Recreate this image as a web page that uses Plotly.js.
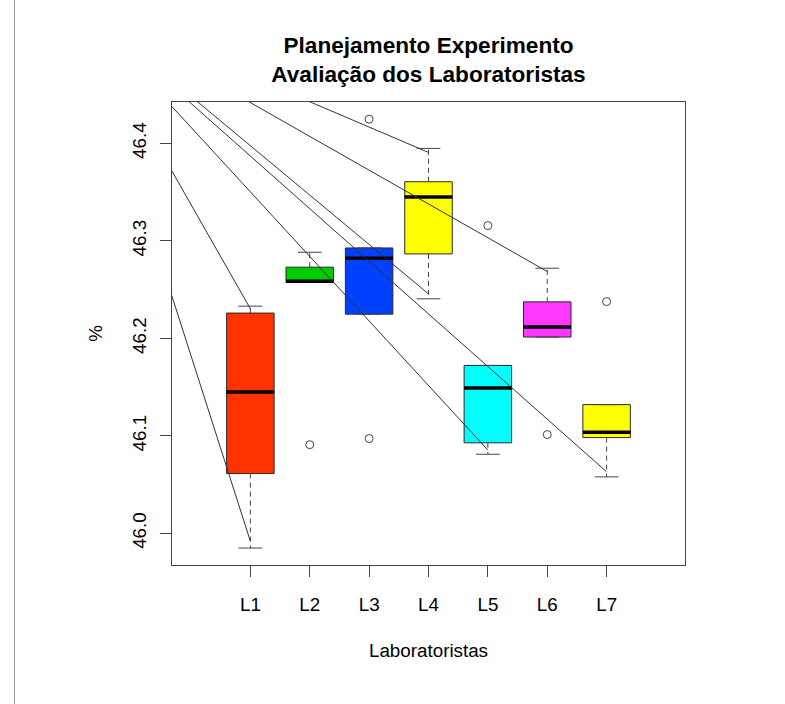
<!DOCTYPE html>
<html>
<head>
<meta charset="utf-8">
<script src="https://cdn.plot.ly/plotly-3.0.1.min.js"></script>
<style>
  html, body { margin:0; padding:0; background:#fff; }
  #wrap { position:relative; width:785px; height:704px; }
  #edge { position:absolute; left:14px; top:0; width:1px; height:704px; background:#9a9a9a; }
  #chart { position:absolute; left:0; top:0; width:785px; height:704px; }
</style>
</head>
<body>
<div id="wrap"><div id="chart"></div><div id="edge"></div></div>
<script>
// ---- data ----
const categories   = ['L1', 'L2', 'L3', 'L4', 'L5', 'L6', 'L7'];
const lowerWhisker = [45.985, 46.2575, 46.2249, 46.2406, 46.0812, 46.2014, 46.0580];
const q1           = [46.0614, 46.2575, 46.2249, 46.2867, 46.0929, 46.2014, 46.0983];
const median       = [46.1451, 46.2587, 46.2823, 46.3450, 46.1492, 46.2116, 46.1037];
const q3           = [46.2260, 46.2731, 46.2928, 46.3607, 46.1723, 46.2375, 46.1321];
const upperWhisker = [46.2331, 46.2884, 46.2928, 46.3949, 46.1723, 46.2720, 46.1321];
const boxColors    = ['#FF3300', '#00CC00', '#0040FF', '#FFFF00', '#00FFFF', '#FF38FF', '#FFFF00'];

// outliers: group index (1-based) and value
const outlierGroup = [2, 3, 3, 5, 6, 7];
const outlierValue = [46.091, 46.0973, 46.4249, 46.3157, 46.1014, 46.2378];

// extra straight lines drawn over the plot (start / end in data units)
const lineStartX = [-0.324, -0.324, -0.324, -0.045, 0.096, 0.953, 1.971];
const lineStartY = [46.244, 46.372, 46.438, 46.4435, 46.4435, 46.4435, 46.4435];
const lineEndX   = [1, 1, 5, 7, 4, 6, 4];
const lineEndY   = [45.992, 46.2304, 46.0855, 46.0632, 46.2457, 46.2686, 46.3908];

const yTicks = [46.0, 46.1, 46.2, 46.3, 46.4];
const yTickText = ['46.0', '46.1', '46.2', '46.3', '46.4'];

// ---- build traces ----
const FONT = 'Liberation Sans, Arial, Helvetica, sans-serif';
const pos = categories.map((c, i) => i + 1);
const halfBox = 0.4, halfCap = 0.2;
const traces = [];

categories.forEach((c, i) => {
  traces.push({
    type: 'box', name: c, x: [pos[i]],
    q1: [q1[i]], median: [median[i]], q3: [q3[i]],
    lowerfence: [q1[i]], upperfence: [q3[i]],
    width: 2 * halfBox, whiskerwidth: 0,
    fillcolor: boxColors[i],
    line: { color: '#2a2a2a', width: 1 },
    boxpoints: false, hoverinfo: 'skip', showlegend: false
  });
});

// whiskers (dashed)
const wx = [], wy = [];
categories.forEach((c, i) => {
  if (upperWhisker[i] > q3[i]) { wx.push(pos[i], pos[i], null); wy.push(q3[i], upperWhisker[i], null); }
  if (lowerWhisker[i] < q1[i]) { wx.push(pos[i], pos[i], null); wy.push(q1[i], lowerWhisker[i], null); }
});
traces.push({ type: 'scatter', mode: 'lines', x: wx, y: wy,
  line: { color: '#444', width: 1, dash: '5px,4px' }, hoverinfo: 'skip', showlegend: false });

// staples (caps)
const cx = [], cy = [];
categories.forEach((c, i) => {
  cx.push(pos[i] - halfCap, pos[i] + halfCap, null); cy.push(upperWhisker[i], upperWhisker[i], null);
  cx.push(pos[i] - halfCap, pos[i] + halfCap, null); cy.push(lowerWhisker[i], lowerWhisker[i], null);
});
traces.push({ type: 'scatter', mode: 'lines', x: cx, y: cy,
  line: { color: '#444', width: 1 }, hoverinfo: 'skip', showlegend: false });

// medians (thick)
const mx = [], my = [];
categories.forEach((c, i) => {
  mx.push(pos[i] - halfBox, pos[i] + halfBox, null); my.push(median[i], median[i], null);
});
traces.push({ type: 'scatter', mode: 'lines', x: mx, y: my,
  line: { color: '#000', width: 3.5 }, hoverinfo: 'skip', showlegend: false });

// outliers
traces.push({ type: 'scatter', mode: 'markers', x: outlierGroup, y: outlierValue,
  marker: { symbol: 'circle-open', size: 8, color: '#444', line: { width: 1, color: '#444' } },
  hoverinfo: 'skip', showlegend: false });

// diagonal lines
const lx = [], ly = [];
lineStartX.forEach((v, i) => { lx.push(lineStartX[i], lineEndX[i], null); ly.push(lineStartY[i], lineEndY[i], null); });
traces.push({ type: 'scatter', mode: 'lines', x: lx, y: ly,
  line: { color: '#333', width: 1 }, hoverinfo: 'skip', showlegend: false });

const layout = {
  width: 785, height: 704,
  margin: { l: 172, r: 100, t: 102, b: 139, pad: 0 },
  paper_bgcolor: '#fff', plot_bgcolor: '#fff',
  font: { family: FONT, size: 18.8, color: '#000' },
  showlegend: false,
  title: {
    text: '<b>Planejamento Experimento</b><br><b>Avaliação dos Laboratoristas</b>',
    font: { family: FONT, size: 22.6, color: '#000' },
    x: 0.5, xref: 'paper', xanchor: 'center',
    y: 1 - 53 / 704, yref: 'container', yanchor: 'top'
  },
  xaxis: {
    range: [-0.32, 8.32], tickvals: pos, ticktext: categories,
    ticks: 'outside', ticklen: 11, tickwidth: 1, tickcolor: '#444',
    showline: true, linecolor: '#444', linewidth: 1, mirror: true,
    showgrid: false, zeroline: false, ticklabelstandoff: 11,
    title: { text: 'Laboratoristas', font: { family: FONT, size: 18.8 }, standoff: 30 }
  },
  yaxis: {
    range: [45.9676, 46.4425], tickvals: yTicks, ticktext: yTickText, tickangle: -90,
    ticks: 'outside', ticklen: 11, tickwidth: 1, tickcolor: '#444',
    showline: true, linecolor: '#444', linewidth: 1, mirror: true,
    showgrid: false, zeroline: false, ticklabelstandoff: 6,
    title: { text: '%', font: { family: FONT, size: 18.8 }, standoff: 21 }
  }
};

Plotly.newPlot('chart', traces, layout, { staticPlot: true, displayModeBar: false });
</script>
</body>
</html>
